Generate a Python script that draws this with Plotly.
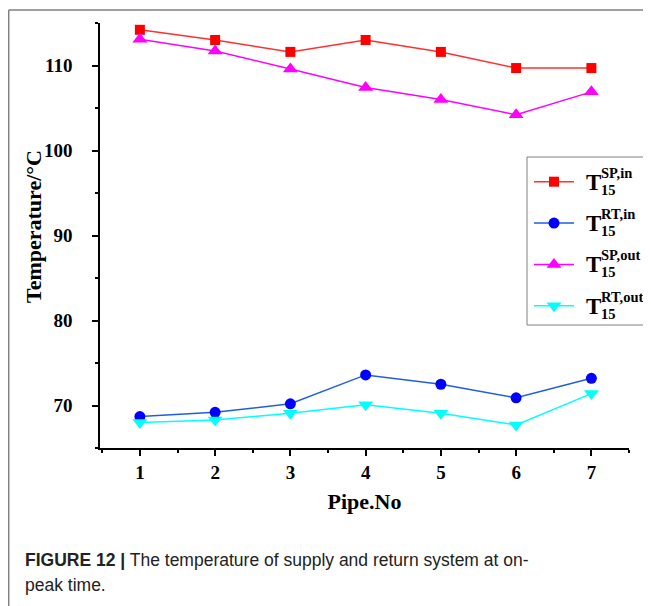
import plotly.graph_objects as go

# ---- data ----
pipe_no = [1, 2, 3, 4, 5, 6, 7]
sp_in = [114.2, 113.0, 111.6, 113.0, 111.6, 109.7, 109.7]
rt_in = [68.7, 69.2, 70.2, 73.6, 72.5, 70.9, 73.2]
sp_out = [113.1, 111.7, 109.6, 107.4, 106.0, 104.2, 106.9]
rt_out = [68.0, 68.3, 69.1, 70.1, 69.1, 67.7, 71.4]
y_ticks = [70, 80, 90, 100, 110]
legend_sup = ["SP,in", "RT,in", "SP,out", "RT,out"]
legend_sub = "15"

# page body has an 8px margin, so the figure is 8px smaller and offset
OFF = 8
W, H = 651 - OFF, 606 - OFF
L, R, T, B = 100 - OFF, 22, 23 - OFF, 158
PW, PH = W - L - R, H - T - B


def px(x):
    return (x - OFF - L) / PW


def py(y):
    return (H - B - (y - OFF)) / PH


serif = "Liberation Serif, Times New Roman, serif"
sans = "Liberation Sans, Arial, sans-serif"

fig = go.Figure()
series = [
    (sp_in, "square", "#ff0000", "#ff3030", 10),
    (rt_in, "circle", "#0000ff", "#1f5fdc", 11),
    (sp_out, "triangle-up", "#ff00ff", "#ff00ff", 13),
    (rt_out, "triangle-down", "#00ffff", "#00ffff", 13),
]
for vals, sym, mc, lc, ms in series:
    fig.add_trace(go.Scatter(
        x=pipe_no, y=vals, mode="lines+markers", name="\u00a0",
        line=dict(color=lc, width=1.5),
        marker=dict(symbol=sym, color=mc, size=ms, line=dict(width=0)),
    ))

axis_common = dict(
    showgrid=False, zeroline=False, showline=True, linecolor="black",
    linewidth=1.5, ticks="outside", tickcolor="black", tickwidth=1.5,
    ticklen=6, tickfont=dict(family=serif, size=19, color="black"),
)
fig.update_xaxes(
    range=[0.47, 7.5], tickmode="array", tickvals=pipe_no,
    ticktext=[f"<b>{v}</b>" for v in pipe_no],
    minor=dict(dtick=0.5, tick0=0.5, ticks="outside", ticklen=3, tickcolor="black", tickwidth=1.5),
    title=dict(text="<b>Pipe.No</b>", font=dict(family=serif, size=22, color="black"), standoff=12),
    ticklabelstandoff=0,
    **axis_common,
)
fig.update_yaxes(
    range=[65, 115], tickmode="array", tickvals=y_ticks,
    ticktext=[f"<b>{v}</b>" for v in y_ticks],
    minor=dict(dtick=5, tick0=65, ticks="outside", ticklen=3, tickcolor="black", tickwidth=1.5),
    ticklabelstandoff=16,
    **axis_common,
)

shapes = [
    # figure frame
    dict(type="line", xref="paper", yref="paper", x0=px(8.7), x1=px(651), y0=py(10), y1=py(10),
         line=dict(color="#808080", width=1.5)),
    dict(type="line", xref="paper", yref="paper", x0=px(8.7), x1=px(8.7), y0=py(10), y1=py(606),
         line=dict(color="#808080", width=1.5)),
    # legend box
    dict(type="rect", xref="paper", yref="paper", x0=px(527), x1=px(644), y0=py(157), y1=py(325),
         line=dict(color="#808080", width=1), fillcolor="rgba(0,0,0,0)"),
]

annotations = [
    dict(x=px(33), y=py(227), xref="paper", yref="paper", xanchor="center", yanchor="middle",
         showarrow=False, textangle=-90, text="<b>Temperature/°C</b>",
         font=dict(family=serif, size=22, color="black")),
]
row_y = [181, 222, 263, 305]
for yc, sup in zip(row_y, legend_sup):
    annotations.append(dict(x=px(584), y=py(yc + 1), xref="paper", yref="paper", xanchor="left",
                            yanchor="middle", showarrow=False, text="<b>T</b>",
                            font=dict(family=serif, size=23, color="black")))
    annotations.append(dict(x=px(599), y=py(yc - 8), xref="paper", yref="paper", xanchor="left",
                            yanchor="middle", showarrow=False, text=f"<b>{sup}</b>",
                            font=dict(family=serif, size=14.5, color="black")))
    annotations.append(dict(x=px(599), y=py(yc + 9), xref="paper", yref="paper", xanchor="left",
                            yanchor="middle", showarrow=False, text=f"<b>{legend_sub}</b>",
                            font=dict(family=serif, size=14.5, color="black")))

annotations.append(dict(x=px(23), y=py(560), xref="paper", yref="paper", xanchor="left",
                        yanchor="middle", showarrow=False,
                        text="<b>FIGURE 12 |</b> The temperature of supply and return system at on-",
                        font=dict(family=sans, size=17.5, color="#222")))
annotations.append(dict(x=px(23), y=py(585), xref="paper", yref="paper", xanchor="left",
                        yanchor="middle", showarrow=False, text="peak time.",
                        font=dict(family=sans, size=17.5, color="#222")))

fig.update_layout(
    width=W, height=H, margin=dict(l=L, r=R, t=T, b=B, autoexpand=False),
    paper_bgcolor="white", plot_bgcolor="white",
    showlegend=True,
    legend=dict(x=px(529), y=py(156), xanchor="left", yanchor="top",
                bgcolor="rgba(0,0,0,0)", borderwidth=0,
                font=dict(family=serif, size=29.5), itemwidth=40, tracegroupgap=0),
    shapes=shapes, annotations=annotations,
)

fig.write_html("out.html")
